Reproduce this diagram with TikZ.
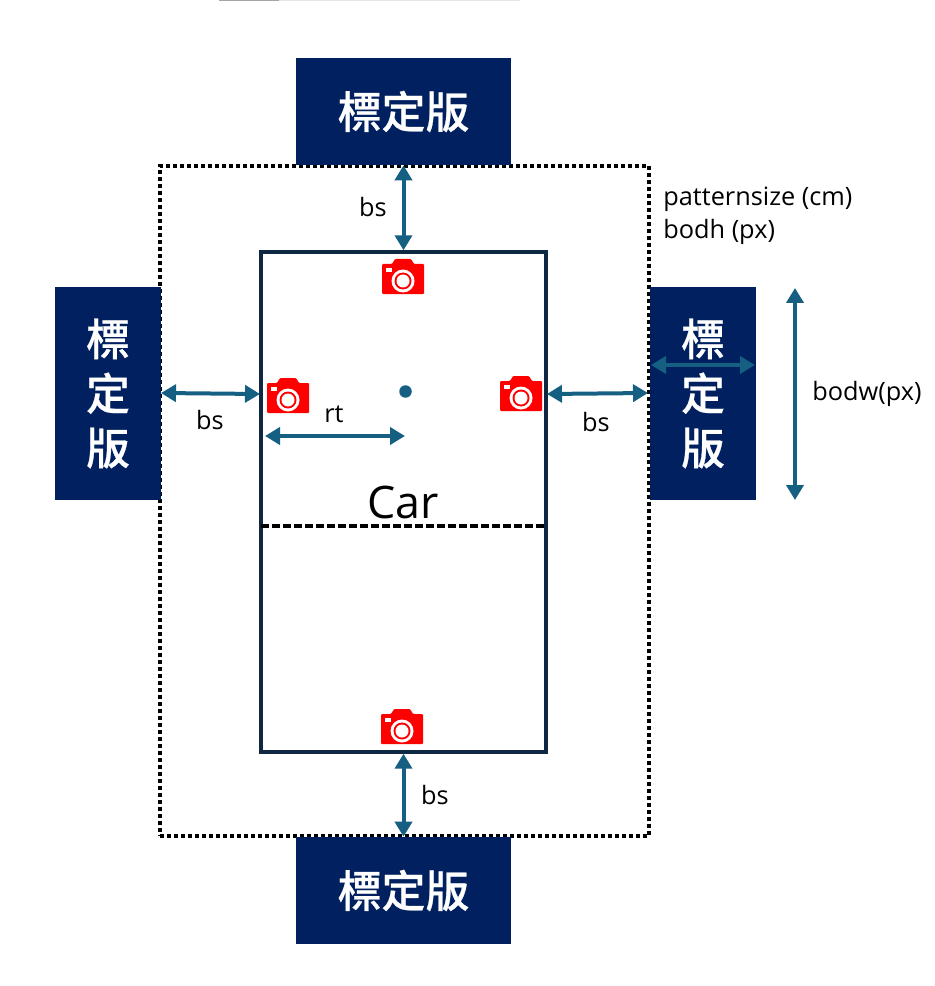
\documentclass[tikz,border=0pt]{standalone}
\usepackage{fontspec}
\setmainfont{Open Sans}
\newfontfamily\cjkfont{Noto Sans CJK TC Medium}[FakeBold=0.6]
\usetikzlibrary{arrows.meta}
\definecolor{boardblue}{HTML}{002060}
\definecolor{arrowteal}{HTML}{156082}
\definecolor{carline}{HTML}{0E2841}
\tikzset{
  board/.style={fill=boardblue, text=white, inner sep=0pt, align=center, font=\cjkfont\fontsize{25}{31}\selectfont},
  boardh/.style={board, minimum width=4.3cm, minimum height=2.14cm},
  boardv/.style={board, minimum width=2.12cm, minimum height=4.26cm},
  dim/.style={<->, >={Triangle[length=0.3cm,width=0.34cm]}, draw=arrowteal, fill=arrowteal, line width=0.08cm},
  lbl/.style={inner sep=0pt, font=\fontsize{14.4}{16}\selectfont},
  camera/.pic={
    \fill[red, rounded corners=0.02cm] (-21,-13) -- (-11,-13) -- (-8,-18) -- (8,-18) -- (11,-13) -- (21,-13) -- (21,17) -- (-21,17) -- cycle;
    \fill[white] (-17,-9) rectangle (-11,-5);
    \fill[white] (0,4) circle (11.5);
    \fill[red] (0,4) circle (8.5);
    \fill[white] (0,4) circle (6.5);
  }
}
\begin{document}
\begin{tikzpicture}[x=0.02cm, y=-0.02cm]
    \useasboundingbox (0,0) rectangle (934,986);
    % Strip
    \fill[black!10] (219,0) rectangle (520,1);
    \fill[black!35] (219,0) rectangle (279,1);
    % Nodes
    \node[draw, line width=0.08cm, dash pattern=on 0.08cm off 0.06cm, minimum width=9.78cm, minimum height=13.4cm] (zone) at (404.5,501) {};
    \node[boardh] (top) at (403.5,111.5) {標定版};
    \node[boardh] (bottom) at (403.5,890.5) {標定版};
    \node[boardv] (left) at (108,393.5) {標\\定\\版};
    \node[boardv] (right) at (703,393.5) {標\\定\\版};
    \node[draw=carline, line width=0.07cm, minimum width=5.7cm, minimum height=10cm] (car) at (403.5,502) {};
    \node[circle, fill=arrowteal, inner sep=0pt, minimum size=0.25cm] (center) at (405.5,391.5) {};
    \pic (camtop) at (403,277) {camera};
    \pic (camleft) at (288,396) {camera};
    \pic (camright) at (521,394) {camera};
    \pic (cambottom) at (402,727) {camera};
    % Labels
    \node[font=\fontsize{25.5}{28}\selectfont, inner sep=0pt] (carname) at (403,502) {Car};
    \node[lbl] (bstop) at (373,207) {bs};
    \node[lbl] (bsleft) at (210,420) {bs};
    \node[lbl] (bsright) at (596,422) {bs};
    \node[lbl] (bsbottom) at (435,795) {bs};
    \node[lbl] (rt) at (334,414) {rt};
    \node[lbl, anchor=west] (pattern) at (663,199) {patternsize (cm)};
    \node[lbl, anchor=west] (bodh) at (663,232) {bodh (px)};
    \node[lbl] (bodw) at (867,394) {bodw(px)};
    % Free ends
    \coordinate (zoneleft) at (161,393);
    \coordinate (carleft) at (260,394);
    \coordinate (carright) at (547,394);
    \coordinate (zoneright) at (648,393);
    \coordinate (rtstart) at (265,436);
    \coordinate (rtend) at (405,436);
    \coordinate (midleft) at (261,526);
    \coordinate (midright) at (546,526);
    \coordinate (inleft) at (651,365);
    \coordinate (inright) at (755,365);
    \coordinate (bodwtop) at (795,288);
    \coordinate (bodwbottom) at (795,500);
    % Edges
    \draw[dim] (top.south) -- (car.north);
    \draw[dim] (car.south) -- (bottom.north);
    \draw[dim] (zoneleft) -- (carleft);
    \draw[dim] (carright) -- (zoneright);
    \draw[dim] (rtstart) -- (rtend);
    \draw[dim] (inleft) -- (inright);
    \draw[dim] (bodwtop) -- (bodwbottom);
    \draw[black, line width=0.07cm, dash pattern=on 0.16cm off 0.06cm] (midleft) -- (midright);
\end{tikzpicture}
\end{document}
